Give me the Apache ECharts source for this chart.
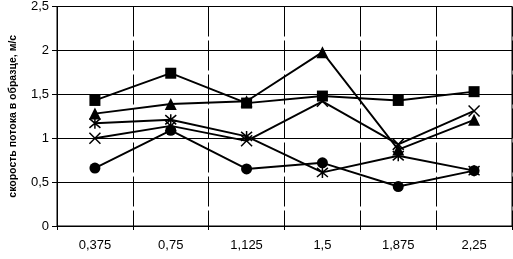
<!DOCTYPE html>
<html>
<head>
<meta charset="utf-8">
<script src="https://cdn.jsdelivr.net/npm/echarts@6/dist/echarts.min.js"></script>
<style>
    html, body { margin: 0; padding: 0; background: #fff; }
    #chart { width: 513px; height: 259px; }
</style>
</head>
<body>
<div id="chart"></div>
<script>
// категории по оси X и значения серий (м/с)
const categories = ['0,375', '0,75', '1,125', '1,5', '1,875', '2,25'];
const yTicks = [0, 0.5, 1, 1.5, 2, 2.5];
const squareVals = [1.43, 1.74, 1.40, 1.48, 1.43, 1.53];
const triangleVals = [1.28, 1.39, 1.42, 1.98, 0.87, 1.21];
const crossVals = [1.00, 1.14, 0.97, 1.42, 0.93, 1.31];
const starVals = [1.17, 1.21, 1.02, 0.61, 0.80, 0.63];
const circleVals = [0.66, 1.09, 0.65, 0.72, 0.45, 0.63];

const font = 'Liberation Sans, Arial, sans-serif';
const crossPath = 'path://M0,0L10,10M10,0L0,10';
const starPath = 'path://M0,0L10,10M10,0L0,10M5,-1L5,11';

const makeSeries = (data, symbol, size, stroke) => ({
    type: 'line',
    data: data,
    symbol: symbol,
    symbolSize: size,
    lineStyle: { color: '#000', width: 1.9 },
    itemStyle: {
        color: stroke ? 'rgba(0,0,0,0)' : '#000',
        borderColor: '#000',
        borderWidth: stroke ? 1.5 : 0
    },
    z: 3
});

const chart = echarts.init(document.getElementById('chart'));
chart.setOption({
    animation: false,
    backgroundColor: '#fff',
    grid: { left: 51, right: 1, top: 5, bottom: 33, show: true, borderColor: '#000', borderWidth: 1 },
    xAxis: {
        type: 'category',
        data: categories,
        boundaryGap: true,
        axisLine: { lineStyle: { color: '#000', width: 1 } },
        axisTick: { show: true, length: 4, lineStyle: { color: '#000' } },
        axisLabel: { color: '#000', fontFamily: font, fontSize: 13, margin: 13 },
        splitLine: { show: true, lineStyle: { color: '#000', width: 1, type: [30, 4] } }
    },
    yAxis: {
        type: 'value',
        min: yTicks[0],
        max: yTicks[yTicks.length - 1],
        interval: 0.5,
        name: 'скорость потока в образце, м/с',
        nameLocation: 'middle',
        nameGap: 38,
        nameTextStyle: { color: '#000', fontFamily: font, fontSize: 10.5, fontWeight: 'bold' },
        axisLine: { show: true, lineStyle: { color: '#000', width: 1 } },
        axisTick: { show: true, length: 5, lineStyle: { color: '#000' } },
        axisLabel: {
            color: '#000', fontFamily: font, fontSize: 13, margin: 8,
            formatter: v => String(v).replace('.', ',')
        },
        splitLine: { show: true, lineStyle: { color: '#000', width: 1 } }
    },
    series: [
        makeSeries(squareVals, 'rect', 11, false),
        makeSeries(triangleVals, 'triangle', 12, false),
        makeSeries(crossVals, crossPath, 11, true),
        makeSeries(starVals, starPath, 11, true),
        makeSeries(circleVals, 'circle', 11, false)
    ]
});
</script>
</body>
</html>
